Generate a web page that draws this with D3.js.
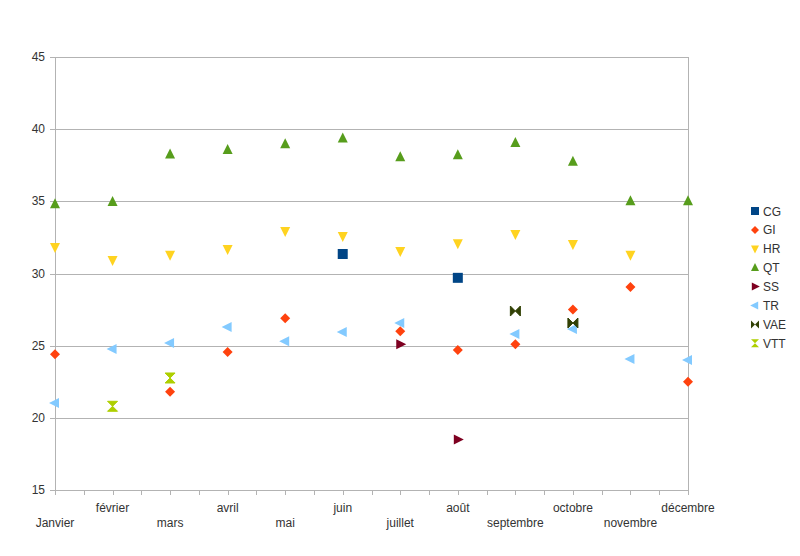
<!DOCTYPE html>
<html><head><meta charset="utf-8">
<script src="https://cdn.jsdelivr.net/npm/d3@7"></script>
<style>body{margin:0;background:#fff;} text{font-family:"Liberation Sans",Arial,sans-serif;}</style>
</head><body>
<svg id="c" width="800" height="556"></svg>
<script>
const months = ["Janvier","février","mars","avril","mai","juin","juillet","août","septembre","octobre","novembre","décembre"];
const yTicks = [15,20,25,30,35,40,45];
const seriesNames = ["CG","GI","HR","QT","SS","TR","VAE","VTT"];
const seriesColors = ["#004586","#ff420e","#ffd320","#579d1c","#7e0021","#83caff","#314004","#aecf00"];
const CG  = [null,null,null,null,null,31.35,null,29.7,null,null,null,null];
const GI  = [24.4,null,21.8,24.56,26.9,null,26.0,24.7,25.1,27.5,29.07,22.5];
const HR  = [31.84,30.94,31.3,31.7,32.95,32.6,31.56,32.1,32.74,32.05,31.3,null];
const QT  = [34.8,34.96,38.25,38.55,38.95,39.35,38.05,38.2,39.05,37.75,35.0,35.0];
const SS  = [null,null,null,null,null,null,25.1,18.5,null,null,null,null];
const TR  = [21.03,24.77,25.19,26.3,25.3,25.95,26.57,null,25.8,26.16,24.08,24.0];
const VAE = [null,null,null,null,null,null,null,null,27.4,26.57,null,null];
const VTT = [null,20.8,22.76,null,null,null,null,null,null,null,null,null];
const seriesData = [CG,GI,HR,QT,SS,TR,VAE,VTT];

const svg = d3.select("#c");
const L=55,R=688,T=57,B=490;
const x = d3.scalePoint().domain(months).range([L,R]);
const y = d3.scaleLinear().domain([15,45]).range([B,T]);
const grid="#b3b3b3", txt="#333";

// gridlines
svg.append("g").selectAll("line").data(yTicks).join("line")
  .attr("x1",L-5).attr("x2",R).attr("y1",d=>Math.round(y(d))+0.5).attr("y2",d=>Math.round(y(d))+0.5)
  .attr("stroke",grid).attr("stroke-width",1);
// right border
svg.append("line").attr("x1",R+0.5).attr("x2",R+0.5).attr("y1",T).attr("y2",B).attr("stroke",grid);
// left axis
svg.append("line").attr("x1",L+0.5).attr("x2",L+0.5).attr("y1",T).attr("y2",B+5).attr("stroke",grid);
// y labels
svg.append("g").selectAll("text").data(yTicks).join("text")
  .attr("x",L-10).attr("y",d=>y(d)+4).attr("text-anchor","end")
  .attr("font-size",12).attr("fill",txt).text(d=>d);
// x ticks (major + minor)
const step = x.step();
const tickXs=[];
months.forEach((m,i)=>{tickXs.push(x(m)); if(i<months.length-1) tickXs.push(x(m)+step/2);});
svg.append("g").selectAll("line").data(tickXs).join("line")
  .attr("x1",d=>Math.round(d)+0.5).attr("x2",d=>Math.round(d)+0.5).attr("y1",B).attr("y2",B+5)
  .attr("stroke",grid);
// x labels staggered
svg.append("g").selectAll("text").data(months).join("text")
  .attr("x",d=>x(d)).attr("y",(d,i)=> i%2===0 ? 527 : 512)
  .attr("text-anchor","middle").attr("font-size",12).attr("fill",txt).text(d=>d);

// marker shapes
function shape(name){
  const s=5;
  switch(name){
    case "CG": return `M${-s},${-s}L${s},${-s}L${s},${s}L${-s},${s}Z`;
    case "GI": return `M0,${-s}L${s},0L0,${s}L${-s},0Z`;
    case "HR": return `M${-s},${-s+1}L${s},${-s+1}L0,${s+1}Z`;
    case "QT": return `M${-s},${s-1}L${s},${s-1}L0,${-s-1}Z`;
    case "SS": return `M${-s+1},${-s}L${-s+1},${s}L${s+1},0Z`;
    case "TR": return `M${s-1},${-s}L${s-1},${s}L${-s-1},0Z`;
    case "VAE": return `M${-s},${-s}L0,0L${-s},${s}ZM${s},${-s}L0,0L${s},${s}Z`;
    case "VTT": return `M${-s},${-s}L${s},${-s}L0,0ZM${-s},${s}L${s},${s}L0,0Z`;
  }
}
const VAEpath = s=>`M${-s},${-s}L0,-1L0,1L${-s},${s}ZM${s},${-s}L0,-1L0,1L${s},${s}Z`;

seriesNames.forEach((name,si)=>{
  const pts = months.map((m,i)=>({m,v:seriesData[si][i]})).filter(d=>d.v!==null);
  svg.append("g").selectAll("path").data(pts).join("path")
    .attr("transform",d=>`translate(${x(d.m)},${y(d.v)})`)
    .attr("d",shape(name)).attr("fill",seriesColors[si])
    .attr("stroke",name==="VAE"||name==="VTT"?seriesColors[si]:"none").attr("stroke-width",name==="VAE"||name==="VTT"?1:0);
});

// legend
const lg = svg.append("g").attr("transform","translate(755,211)");
seriesNames.forEach((name,i)=>{
  const g = lg.append("g").attr("transform",`translate(0,${i*18.9})`);
  g.append("path").attr("d",shape(name)).attr("transform","scale(0.8)").attr("fill",seriesColors[i]);
  g.append("text").attr("x",8).attr("y",4.5).attr("font-size",12).attr("fill",txt).text(name);
});
</script>
</body></html>
